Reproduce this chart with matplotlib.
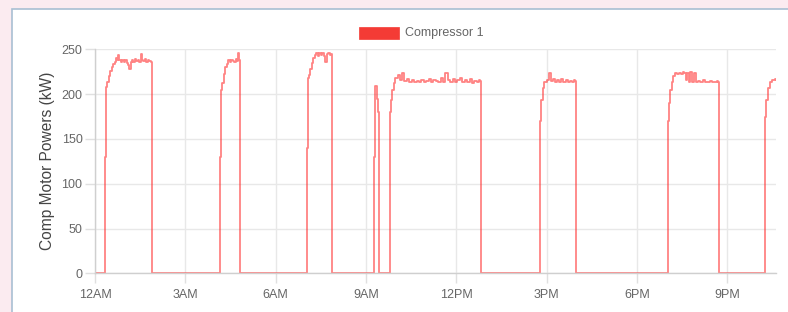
import matplotlib
matplotlib.use("Agg")
import matplotlib.pyplot as plt
from matplotlib.patches import Rectangle

plt.rcParams['font.family'] = ['Liberation Sans', 'DejaVu Sans']

# ---- data (hours since midnight, kW) ----
hours = [
    0.00, 0.30, 0.33, 0.35, 0.40, 0.45, 0.50, 0.55, 0.60, 0.65, 0.70, 0.73, 0.76, 0.80, 0.85, 0.90, 0.95,
    1.00, 1.05, 1.10, 1.14, 1.18, 1.22, 1.27, 1.32, 1.37, 1.42, 1.47, 1.52, 1.56, 1.61, 1.66, 1.71, 1.76,
    1.81, 1.86, 1.88,
    4.12, 4.15, 4.17, 4.22, 4.27, 4.32, 4.37, 4.42, 4.47, 4.52, 4.57, 4.62, 4.67, 4.72, 4.75, 4.78, 4.80,
    7.01, 7.04, 7.06, 7.10, 7.15, 7.20, 7.25, 7.30, 7.35, 7.40, 7.45, 7.50, 7.55, 7.60, 7.65, 7.70, 7.75,
    7.80, 7.85, 7.88,
    9.25, 9.28, 9.31, 9.36, 9.40, 9.43,
    9.76, 9.79, 9.83, 9.88, 9.93, 9.98, 10.05, 10.12, 10.20, 10.28, 10.36, 10.44, 10.52, 10.60, 10.68,
    10.76, 10.84, 10.92, 11.00, 11.08, 11.16, 11.24, 11.32, 11.40, 11.48, 11.56, 11.64, 11.72, 11.80,
    11.88, 11.96, 12.04, 12.12, 12.20, 12.28, 12.36, 12.44, 12.52, 12.60, 12.68, 12.76, 12.79, 12.81,
    14.76, 14.79, 14.82, 14.87, 14.93, 15.00, 15.07, 15.14, 15.21, 15.28, 15.35, 15.42, 15.49, 15.56,
    15.63, 15.70, 15.77, 15.84, 15.91, 15.95, 15.97,
    19.01, 19.04, 19.07, 19.10, 19.15, 19.20, 19.25, 19.32, 19.40, 19.47, 19.52, 19.56, 19.62, 19.68,
    19.72, 19.78, 19.84, 19.90, 19.95, 20.02, 20.10, 20.18, 20.26, 20.34, 20.42, 20.50, 20.58, 20.65,
    20.70, 20.72,
    22.23, 22.26, 22.29, 22.35, 22.42, 22.50, 22.58, 22.62,
]
kw = [
    0, 0, 130, 208, 214, 220, 226, 230, 234, 236, 240, 238, 244, 238, 236, 238, 236,
    238, 235, 232, 228, 236, 238, 236, 239, 237, 238, 236, 245, 238, 237, 239, 236, 238,
    237, 236, 0,
    0, 130, 205, 212, 222, 230, 234, 238, 236, 238, 237, 236, 239, 237, 246, 238, 0,
    0, 140, 218, 221, 228, 235, 240, 244, 246, 243, 246, 244, 246, 243, 236, 245, 246,
    244, 245, 0,
    0, 130, 209, 195, 180, 0,
    0, 180, 193, 205, 212, 218, 221, 216, 223, 215, 217, 214, 216, 213, 215,
    214, 216, 213, 215, 217, 214, 216, 215, 213, 218, 214, 223, 216, 214,
    217, 213, 216, 218, 214, 216, 213, 217, 212, 215, 214, 216, 215, 0,
    0, 170, 193, 207, 214, 216, 223, 215, 217, 214, 216, 213, 217, 214,
    216, 213, 215, 214, 216, 215, 0,
    0, 170, 190, 205, 214, 220, 223, 222, 224, 222, 225, 223, 216, 224,
    213, 225, 213, 224, 214, 215, 213, 216, 214, 213, 215, 214, 213, 215,
    214, 0,
    0, 175, 193, 207, 214, 216, 217, 216,
]
tick_hours = [0, 3, 6, 9, 12, 15, 18, 21]
tick_labels = ["12AM", "3AM", "6AM", "9AM", "12PM", "3PM", "6PM", "9PM"]
y_ticks = [0, 50, 100, 150, 200, 250]
series_name = "Compressor 1"

W, H = 788, 312
fig = plt.figure(figsize=(W / 100, H / 100), dpi=100)
fig.patch.set_facecolor("#fbebf0")

# white panel with light border
panel = Rectangle((12 / W, -0.05), 1.2, 1 - 9 / H + 0.05, transform=fig.transFigure,
                  facecolor="white", edgecolor="#a9bfd3", linewidth=1.2, zorder=0)
fig.patches.append(panel)

ax = fig.add_axes([95 / W, 1 - 273.3 / H, (776 - 95) / W, (273.3 - 49.3) / H])
ax.set_facecolor("white")
ax.set_zorder(1)

ax.plot(hours, kw, color="#ff3030", alpha=0.6, linewidth=1.3, drawstyle="steps-post")

ax.set_xlim(0, 22.62)
ax.set_ylim(0, 250)
ax.set_xticks(tick_hours)
ax.set_xticklabels(tick_labels)
ax.set_yticks(y_ticks)

ax.grid(True, color="#e8e8e8", linewidth=1)
ax.set_axisbelow(True)
for s in ["top", "right"]:
    ax.spines[s].set_visible(False)
for s in ["left", "bottom"]:
    ax.spines[s].set_color("#cfcfcf")
    ax.spines[s].set_linewidth(1)

ax.tick_params(axis="both", colors="#e0e0e0", length=7, width=1, labelcolor="#666666",
               labelsize=9)
ax.tick_params(axis="y", pad=2)
ax.tick_params(axis="x", pad=4)

ax.set_ylabel("Comp Motor Powers (kW)", fontsize=11.2, color="#444444", labelpad=5)

# legend (Chart.js style)
fig.patches.append(Rectangle((359 / W, 1 - 39 / H), 40 / W, 12 / H, transform=fig.transFigure,
                             facecolor="#f43b35", edgecolor="#f43b35", linewidth=0.5, zorder=2))
fig.text(405 / W, 1 - 33 / H, series_name, fontsize=9, color="#666666", va="center", ha="left")

fig.savefig("out.png", dpi=100, facecolor=fig.get_facecolor())
